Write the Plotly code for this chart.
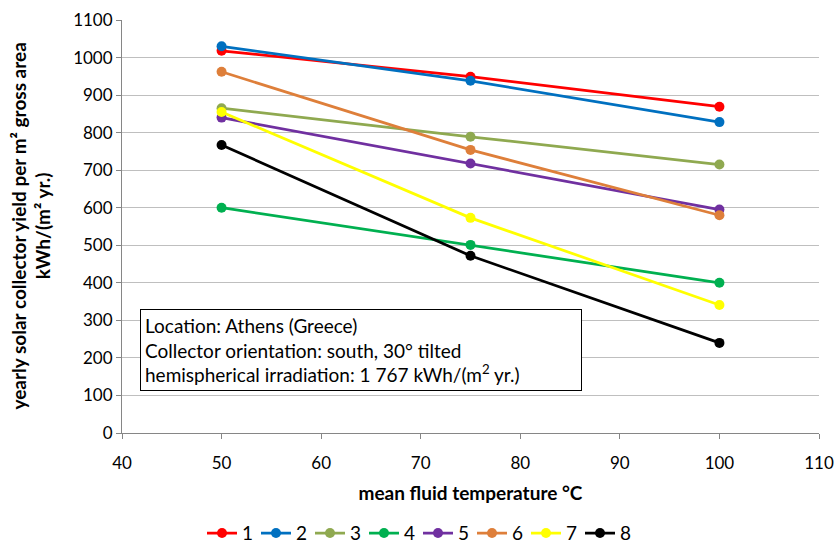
import plotly.graph_objects as go

temps = [50, 75, 100]
names = ["1", "2", "3", "4", "5", "6", "7", "8"]
s1 = [1018, 949, 869]
s2 = [1030, 938, 828]
s3 = [865, 789, 715]
s4 = [600, 501, 400]
s5 = [840, 718, 595]
s6 = [962, 754, 580]
s7 = [855, 573, 341]
s8 = [767, 472, 240]
series = [s1, s2, s3, s4, s5, s6, s7, s8]
colors = ["#FF0000", "#0070C0", "#8FA950", "#00B050", "#7030A0", "#DE7F3A", "#FFFF00", "#000000"]

FONT = "Lato, 'Open Sans', sans-serif"

fig = go.Figure()
for name, vals, c in zip(names, series, colors):
    fig.add_trace(go.Scatter(x=temps, y=vals, name=name, mode="lines+markers",
                             line=dict(color=c, width=2.75),
                             marker=dict(color=c, size=10)))

fig.update_layout(
    width=836, height=543,
    margin=dict(l=122, r=17, t=20, b=110),
    paper_bgcolor="white", plot_bgcolor="white",
    font=dict(family=FONT, size=17, color="#000000"),
    showlegend=True,
    legend=dict(orientation="h", xref="container", yref="container",
                x=0.5, xanchor="center", y=0.018, yanchor="middle",
                font=dict(size=19), itemwidth=30, tracegroupgap=0,
                entrywidth=9, entrywidthmode="pixels"),
    xaxis=dict(range=[40, 110], dtick=10, tick0=40, showgrid=False,
               showline=True, linecolor="#868686", linewidth=1,
               ticks="outside", ticklen=5, tickcolor="#868686",
               tickfont=dict(size=17), ticklabelstandoff=10,
               automargin=False,
               title=dict(text="<b>mean fluid temperature °C</b>", font=dict(size=19), standoff=14),
               zeroline=False),
    yaxis=dict(range=[0, 1100], dtick=100, showgrid=True, gridcolor="#BFBFBF", gridwidth=1,
               showline=True, linecolor="#868686", linewidth=1,
               ticks="outside", ticklen=5, tickcolor="#868686",
               tickfont=dict(size=17), automargin=False,
               zeroline=False),
)

fig.add_annotation(
    xref="paper", yref="paper", x=(30 - 122) / 697, y=0.5,
    xanchor="center", yanchor="middle", textangle=-90, showarrow=False,
    text="<b>yearly solar collector yield per m² gross area<br>kWh/(m² yr.)</b>",
    font=dict(size=19, family=FONT),
)

fig.add_annotation(
    xref="paper", yref="paper", x=(140 - 122) / 697, y=(433 - 309) / 413,
    xanchor="left", yanchor="top", align="left", showarrow=False,
    text="Location: Athens (Greece)<br>Collector orientation: south, 30° tilted<br>hemispherical irradiation: 1 767 kWh/(m<sup>2</sup> yr.)",
    font=dict(size=19, family=FONT), bgcolor="white", bordercolor="#000000", borderwidth=1,
    borderpad=4, width=432,
)

fig.write_html("out.html")
